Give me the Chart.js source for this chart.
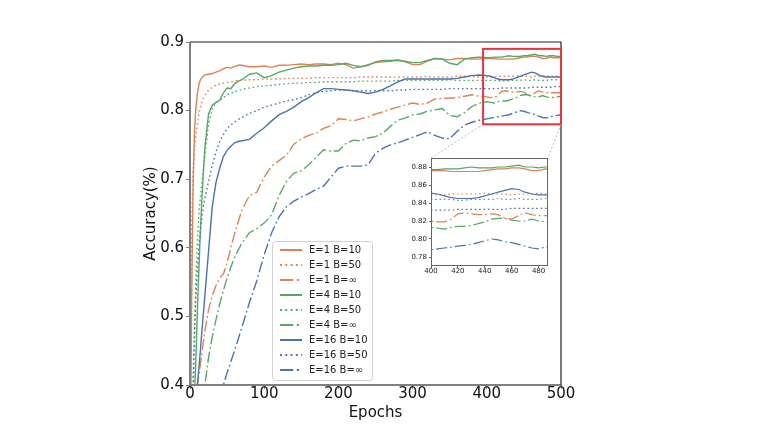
<!DOCTYPE html>
<html>
<head>
<meta charset="utf-8">
<script src="https://cdn.jsdelivr.net/npm/chart.js@4.4.0/dist/chart.umd.min.js"></script>
<style>
html, body { margin: 0; padding: 0; background: #fff; }
#lienzo { position: relative; width: 761px; height: 428px; }
#cajaMain { position: absolute; left: 0; top: 0; }
#cajaInset { position: absolute; left: 395px; top: 148px; }
</style>
</head>
<body>
<div id="lienzo">
  <div id="cajaMain"><canvas id="main" width="761" height="428"></canvas></div>
  <div id="cajaInset"><canvas id="inset" width="160" height="132"></canvas></div>
</div>
<script>
//DATOS
var epochs = [0, 2, 4, 6, 8, 10, 12, 14, 16, 18, 20, 25, 30, 35, 40, 45, 50, 55, 60, 65, 70,
    80, 90, 100, 110, 120, 130, 140, 150, 160, 170, 180, 190, 200, 210, 220, 230, 240, 250, 260, 270, 280, 290, 300,
    310, 320, 330, 340, 350, 360, 370, 380, 390, 400,
    405, 410, 415, 420, 425, 430, 435, 440, 445, 450, 455, 460, 465, 470, 475, 480, 485, 490, 495, 500];

var e1b10 = [0.20, 0.50, 0.68, 0.77, 0.805, 0.825, 0.838, 0.845, 0.848, 0.850, 0.852, 0.853, 0.854, 0.856, 0.858, 0.861, 0.863, 0.862, 0.864, 0.866, 0.866,
    0.864, 0.864, 0.865, 0.863, 0.866, 0.866, 0.867, 0.868, 0.867, 0.868, 0.868, 0.867, 0.869, 0.867, 0.862, 0.864, 0.867, 0.870, 0.871, 0.872, 0.874, 0.871, 0.867,
    0.867, 0.872, 0.876, 0.875, 0.874, 0.876, 0.876, 0.875, 0.875, 0.876,
    0.876, 0.876, 0.875, 0.875, 0.875, 0.875, 0.875, 0.876, 0.877, 0.878, 0.878, 0.879, 0.879, 0.878, 0.876, 0.876, 0.878, 0.877, 0.877, 0.877];

var e1b50 = [0.35, 0.62, 0.71, 0.745, 0.765, 0.78, 0.795, 0.805, 0.812, 0.818, 0.822, 0.830, 0.834, 0.837, 0.839, 0.840, 0.841, 0.842, 0.843, 0.844, 0.844,
    0.845, 0.845, 0.846, 0.846, 0.846, 0.847, 0.847, 0.847, 0.847, 0.848, 0.848, 0.848, 0.848, 0.848, 0.848, 0.849, 0.849, 0.849, 0.849, 0.849, 0.849, 0.849, 0.849,
    0.849, 0.850, 0.849, 0.849, 0.849, 0.850, 0.850, 0.850, 0.849, 0.849,
    0.849, 0.849, 0.850, 0.850, 0.850, 0.850, 0.850, 0.851, 0.850, 0.850, 0.850, 0.849, 0.850, 0.850, 0.850, 0.851, 0.850, 0.850, 0.850, 0.850];

var e1binf = [0.15, 0.21, 0.26, 0.31, 0.36, 0.40, 0.415, 0.43, 0.446, 0.462, 0.478, 0.51, 0.53, 0.545, 0.556, 0.562, 0.578, 0.60, 0.62, 0.638, 0.655,
    0.676, 0.681, 0.703, 0.719, 0.727, 0.735, 0.751, 0.759, 0.764, 0.767, 0.774, 0.778, 0.788, 0.787, 0.785, 0.788, 0.791, 0.795, 0.798, 0.802, 0.805, 0.808, 0.811,
    0.809, 0.811, 0.817, 0.818, 0.818, 0.819, 0.821, 0.823, 0.821, 0.820,
    0.819, 0.819, 0.822, 0.828, 0.829, 0.828, 0.827, 0.827, 0.828, 0.827, 0.823, 0.822, 0.826, 0.829, 0.827, 0.826, 0.826, 0.826, 0.826, 0.826];

var e4b10 = [0.10, 0.20, 0.29, 0.38, 0.44, 0.51, 0.57, 0.625, 0.67, 0.71, 0.745, 0.795, 0.808, 0.812, 0.815, 0.826, 0.833, 0.832, 0.839, 0.843, 0.845,
    0.853, 0.855, 0.848, 0.851, 0.856, 0.859, 0.862, 0.864, 0.865, 0.865, 0.866, 0.866, 0.867, 0.869, 0.866, 0.864, 0.866, 0.871, 0.873, 0.873, 0.873, 0.872, 0.870,
    0.870, 0.873, 0.876, 0.875, 0.869, 0.867, 0.875, 0.877, 0.878, 0.877,
    0.877, 0.878, 0.878, 0.878, 0.879, 0.880, 0.879, 0.879, 0.879, 0.880, 0.880, 0.881, 0.882, 0.880, 0.880, 0.879, 0.880, 0.880, 0.879, 0.879];

var e4b50 = [0.20, 0.28, 0.37, 0.47, 0.56, 0.61, 0.65, 0.675, 0.695, 0.715, 0.735, 0.780, 0.803, 0.811, 0.815, 0.819, 0.823, 0.825, 0.828, 0.829, 0.831,
    0.833, 0.835, 0.836, 0.837, 0.838, 0.839, 0.840, 0.840, 0.841, 0.841, 0.842, 0.842, 0.842, 0.842, 0.842, 0.843, 0.843, 0.843, 0.843, 0.843, 0.844, 0.844, 0.844,
    0.844, 0.844, 0.844, 0.844, 0.845, 0.844, 0.844, 0.844, 0.844, 0.844,
    0.844, 0.844, 0.844, 0.843, 0.843, 0.844, 0.844, 0.844, 0.844, 0.845, 0.844, 0.844, 0.845, 0.844, 0.844, 0.844, 0.845, 0.845, 0.845, 0.845];

var e4binf = [0.05, 0.10, 0.15, 0.19, 0.23, 0.26, 0.30, 0.33, 0.355, 0.38, 0.40, 0.44, 0.47, 0.495, 0.518, 0.538, 0.556, 0.572, 0.586, 0.597, 0.607,
    0.622, 0.628, 0.636, 0.648, 0.676, 0.697, 0.709, 0.712, 0.721, 0.732, 0.743, 0.741, 0.741, 0.752, 0.757, 0.756, 0.760, 0.762, 0.767, 0.777, 0.786, 0.789, 0.794,
    0.795, 0.799, 0.801, 0.803, 0.793, 0.791, 0.797, 0.806, 0.811, 0.813,
    0.812, 0.811, 0.813, 0.814, 0.814, 0.815, 0.817, 0.819, 0.822, 0.823, 0.823, 0.821, 0.820, 0.820, 0.822, 0.820, 0.819, 0.819, 0.820, 0.821];

var e16b10 = [0.27, 0.30, 0.32, 0.35, 0.374, 0.40, 0.425, 0.45, 0.478, 0.504, 0.53, 0.595, 0.66, 0.695, 0.716, 0.733, 0.742, 0.748, 0.753, 0.755, 0.756,
    0.758, 0.767, 0.775, 0.785, 0.794, 0.799, 0.805, 0.813, 0.819, 0.826, 0.832, 0.832, 0.831, 0.830, 0.829, 0.827, 0.825, 0.827, 0.831, 0.836, 0.842, 0.846, 0.846,
    0.846, 0.846, 0.846, 0.846, 0.846, 0.847, 0.849, 0.851, 0.852, 0.851,
    0.850, 0.848, 0.846, 0.845, 0.845, 0.845, 0.846, 0.848, 0.850, 0.852, 0.854, 0.856, 0.855, 0.852, 0.850, 0.849, 0.849, 0.849, 0.849, 0.849];

var e16b50 = [0.25, 0.33, 0.40, 0.48, 0.53, 0.57, 0.60, 0.625, 0.645, 0.66, 0.672, 0.697, 0.720, 0.740, 0.755, 0.765, 0.774, 0.779, 0.783, 0.787, 0.790,
    0.796, 0.800, 0.805, 0.808, 0.811, 0.814, 0.816, 0.819, 0.823, 0.826, 0.828, 0.829, 0.830, 0.830, 0.829, 0.829, 0.829, 0.829, 0.829, 0.829, 0.830, 0.830, 0.831,
    0.831, 0.831, 0.831, 0.831, 0.832, 0.832, 0.832, 0.832, 0.832, 0.832,
    0.832, 0.832, 0.832, 0.833, 0.833, 0.833, 0.833, 0.833, 0.833, 0.833, 0.833, 0.834, 0.834, 0.834, 0.834, 0.834, 0.834, 0.835, 0.835, 0.835];

var e16binf = [0.0, 0.02, 0.04, 0.06, 0.08, 0.10, 0.12, 0.14, 0.16, 0.18, 0.20, 0.25, 0.29, 0.33, 0.37, 0.40, 0.418, 0.434, 0.45, 0.467, 0.484,
    0.520, 0.552, 0.590, 0.622, 0.645, 0.660, 0.668, 0.674, 0.679, 0.685, 0.690, 0.703, 0.716, 0.719, 0.719, 0.719, 0.721, 0.738, 0.745, 0.750, 0.753, 0.757, 0.761,
    0.765, 0.769, 0.764, 0.760, 0.759, 0.770, 0.779, 0.783, 0.786, 0.788,
    0.789, 0.790, 0.791, 0.792, 0.793, 0.794, 0.796, 0.798, 0.800, 0.799, 0.797, 0.796, 0.794, 0.792, 0.790, 0.789, 0.791, 0.792, 0.793, 0.794];

var nombres = ['E=1 B=10', 'E=1 B=50', 'E=1 B=\u221e', 'E=4 B=10', 'E=4 B=50', 'E=4 B=\u221e', 'E=16 B=10', 'E=16 B=50', 'E=16 B=\u221e'];

var mainXTicks = [0, 100, 200, 300, 400, 500];
var mainYTicks = [0.4, 0.5, 0.6, 0.7, 0.8, 0.9];
var insetXTicks = [400, 420, 440, 460, 480];
var insetYTicks = [0.78, 0.80, 0.82, 0.84, 0.86, 0.88];
var zoomX = [395, 500];
var zoomY = [0.78, 0.89];

//ESTILO
var series = [e1b10, e1b50, e1binf, e4b10, e4b50, e4binf, e16b10, e16b50, e16binf];
var color = ['#dd8452', '#dd8452', '#dd8452', '#55a868', '#55a868', '#55a868', '#4c72b0', '#4c72b0', '#4c72b0'];
var punteado = [1.6, 2.8];
var rayaPunto = [11, 3, 1.8, 3];
var trazo = [[], punteado, rayaPunto, [], punteado, rayaPunto, [], punteado, rayaPunto];

Chart.defaults.font.family = 'DejaVu Sans';
Chart.defaults.color = '#111';

function armarDatasets(ancho) {
    var sets = [];
    for (var i = 0; i < series.length; i++) {
        var puntos = [];
        for (var j = 0; j < epochs.length; j++) {
            puntos.push({ x: epochs[j], y: series[i][j] });
        }
        sets.push({
            label: nombres[i],
            data: puntos,
            borderColor: color[i],
            borderDash: trazo[i],
            borderWidth: ancho,
            pointRadius: 0,
            fill: false,
            tension: 0,
            order: series.length - i
        });
    }
    return sets;
}

function fijarTicks(lista) {
    return function (scale) {
        scale.ticks = lista.map(function (v) { return { value: v }; });
    };
}

//INSET
var bordeInset = {
    id: 'bordeInset',
    afterDatasetsDraw: function (chart) {
        var ctx = chart.ctx, a = chart.chartArea;
        ctx.save();
        ctx.strokeStyle = '#666';
        ctx.lineWidth = 1;
        ctx.strokeRect(a.left + 0.5, a.top + 0.5, a.right - a.left - 1, a.bottom - a.top - 1);
        ctx.restore();
    }
};

var insetChart = new Chart(document.getElementById('inset'), {
    type: 'line',
    data: { datasets: armarDatasets(1.2) },
    options: {
        responsive: false,
        animation: false,
        events: [],
        layout: { padding: { left: 0, top: 10, right: 7, bottom: 0 } },
        plugins: { legend: { display: false }, tooltip: { enabled: false } },
        scales: {
            x: {
                type: 'linear', min: 400, max: 487,
                afterBuildTicks: fijarTicks(insetXTicks),
                afterFit: function (s) { s.height = 14; },
                border: { display: false },
                grid: { drawOnChartArea: false, tickLength: 2, color: '#666' },
                ticks: { font: { size: 7, lineHeight: 1 }, padding: 0, color: '#222', maxRotation: 0 }
            },
            y: {
                type: 'linear', min: 0.77, max: 0.89,
                afterBuildTicks: fijarTicks(insetYTicks),
                afterFit: function (s) { s.width = 36; },
                border: { display: false },
                grid: { drawOnChartArea: false, tickLength: 2, color: '#666' },
                ticks: {
                    font: { size: 7 }, padding: 2, color: '#222',
                    callback: function (v) { return v.toFixed(2); }
                }
            }
        }
    },
    plugins: [bordeInset]
});

//PRINCIPAL
var marco = {
    id: 'marco',
    afterDatasetsDraw: function (chart) {
        var ctx = chart.ctx, a = chart.chartArea, sx = chart.scales.x, sy = chart.scales.y;
        ctx.save();
        ctx.strokeStyle = '#808080';
        ctx.lineWidth = 2;
        ctx.beginPath();
        ctx.moveTo(a.left, a.top);
        ctx.lineTo(a.left, a.bottom);
        ctx.lineTo(a.right, a.bottom);
        ctx.stroke();
        ctx.strokeStyle = '#222';
        ctx.lineWidth = 1.2;
        ctx.beginPath();
        ctx.moveTo(a.left, a.top);
        ctx.lineTo(a.right, a.top);
        ctx.lineTo(a.right, a.bottom);
        ctx.stroke();

        // recuadro del zoom
        var rx0 = sx.getPixelForValue(zoomX[0]), rx1 = sx.getPixelForValue(zoomX[1]);
        var ry0 = sy.getPixelForValue(zoomY[1]), ry1 = sy.getPixelForValue(zoomY[0]);
        ctx.strokeStyle = '#e8323c';
        ctx.lineWidth = 2;
        ctx.strokeRect(rx0, ry0, rx1 - rx0, ry1 - ry0);

        // lineas hacia el inset
        var ia = insetChart.chartArea;
        var caja = document.getElementById('cajaInset');
        var ox = caja.offsetLeft, oy = caja.offsetTop;
        ctx.strokeStyle = '#aaa';
        ctx.lineWidth = 0.8;
        ctx.setLineDash([2, 2]);
        ctx.beginPath();
        ctx.moveTo(rx0, ry1);
        ctx.lineTo(ox + ia.left, oy + ia.top);
        ctx.moveTo(rx1, ry1);
        ctx.lineTo(ox + ia.right, oy + ia.top);
        ctx.stroke();
        ctx.restore();
    },
    afterDraw: function (chart) {
        var ctx = chart.ctx;
        var sets = chart.data.datasets;
        ctx.save();
        ctx.fillStyle = 'rgba(255,255,255,0.85)';
        ctx.strokeStyle = '#d0d0d0';
        ctx.lineWidth = 1;
        ctx.beginPath();
        ctx.roundRect(272.5, 241.5, 100, 139, 3);
        ctx.fill();
        ctx.stroke();
        ctx.font = '10px "DejaVu Sans"';
        ctx.textBaseline = 'middle';
        for (var i = 0; i < sets.length; i++) {
            var yy = 250 + i * 15;
            ctx.strokeStyle = sets[i].borderColor;
            ctx.lineWidth = 2;
            ctx.setLineDash(sets[i].borderDash.map(function (d) { return d * 1.2; }));
            ctx.beginPath();
            ctx.moveTo(280, yy);
            ctx.lineTo(302, yy);
            ctx.stroke();
            ctx.setLineDash([]);
            ctx.fillStyle = '#222';
            ctx.fillText(sets[i].label, 309, yy);
        }
        ctx.restore();
    }
};

var grafico = new Chart(document.getElementById('main'), {
    type: 'line',
    data: { datasets: armarDatasets(1.4) },
    options: {
        responsive: false,
        animation: false,
        events: [],
        layout: { padding: { left: 138, top: 42, right: 200, bottom: 0 } },
        plugins: { legend: { display: false }, tooltip: { enabled: false } },
        scales: {
            x: {
                type: 'linear', min: 0, max: 500,
                afterBuildTicks: fijarTicks(mainXTicks),
                afterFit: function (s) { s.height = 43; },
                border: { display: false },
                grid: { drawOnChartArea: false, tickLength: 4, color: '#808080' },
                ticks: { font: { size: 15, lineHeight: 1 }, padding: -2, maxRotation: 0 },
                title: { display: true, text: 'Epochs', font: { size: 15 }, padding: { top: 0, bottom: 6 } }
            },
            y: {
                type: 'linear', min: 0.4, max: 0.9,
                afterBuildTicks: fijarTicks(mainYTicks),
                afterFit: function (s) { s.width = 52; },
                border: { display: false },
                grid: { drawOnChartArea: false, tickLength: 4, color: '#808080' },
                ticks: {
                    font: { size: 15 }, padding: 2,
                    callback: function (v) { return v.toFixed(1); }
                },
                title: { display: true, text: 'Accuracy(%)', font: { size: 15 } }
            }
        }
    },
    plugins: [marco]
});
</script>
</body>
</html>
